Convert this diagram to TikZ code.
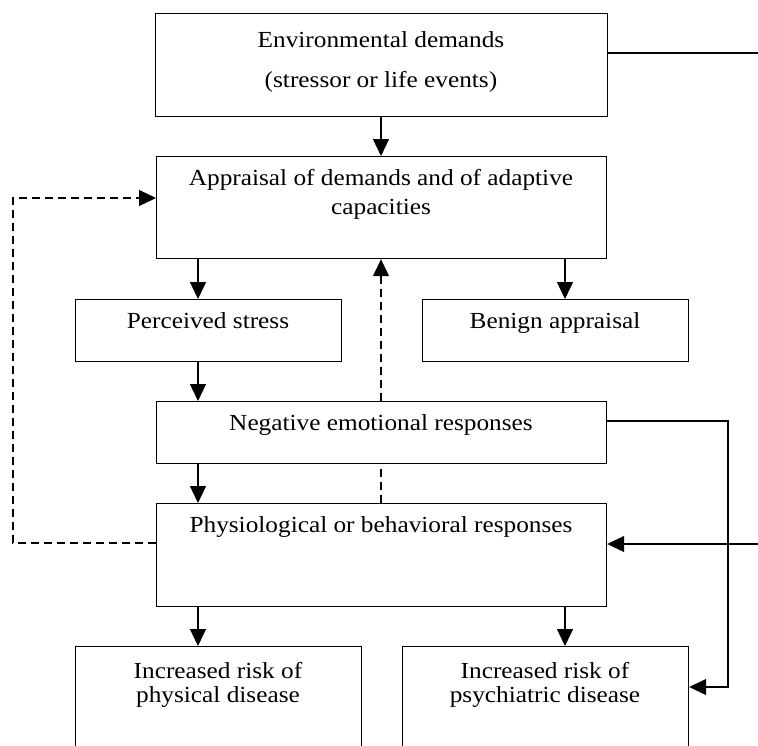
\documentclass[tikz,border=0pt]{standalone}
\usepackage{fontspec}
\setmainfont[FakeStretch=1.1]{Liberation Serif}
\usetikzlibrary{arrows.meta}
\begin{document}
\begin{tikzpicture}[x=1pt,y=-1pt,
  box/.style={draw, line width=1.2pt, inner sep=0pt, anchor=north west},
  lbl/.style={anchor=base, inner sep=0pt, font=\fontsize{23}{27}\selectfont},
  tip/.style={-{Triangle[length=17pt,width=16pt]}},
  arr/.style={line width=1.2pt, tip},
  ln/.style={line width=1.2pt},
  dsh/.style={line width=1.2pt, dash pattern=on 8pt off 5pt}]
\useasboundingbox (0,0) rectangle (758,745);
\begin{scope}
\clip (0,0) rectangle (758,745);
% boxes
\node[box, minimum width=452pt, minimum height=103pt] (env) at (155,13) {};
\node[box, minimum width=450pt, minimum height=102pt] (appr) at (156,156) {};
\node[box, minimum width=266pt, minimum height=62pt] (perc) at (75,299) {};
\node[box, minimum width=266pt, minimum height=62pt] (benign) at (422,299) {};
\node[box, minimum width=450pt, minimum height=62pt] (neg) at (156,401) {};
\node[box, minimum width=450pt, minimum height=103pt] (phys) at (156,503) {};
\node[box, minimum width=286pt, minimum height=150pt] (physrisk) at (75,646) {};
\node[box, minimum width=286pt, minimum height=150pt] (psych) at (402,646) {};
% texts
\node[lbl] (t1) at (381,47) {Environmental demands};
\node[lbl] (t2) at (381,87) {(stressor or life events)};
\node[lbl] (t3) at (381,185) {Appraisal of demands and of adaptive};
\node[lbl] (t4) at (381,214) {capacities};
\node[lbl] (t5) at (208,328) {Perceived stress};
\node[lbl] (t6) at (555,328) {Benign appraisal};
\node[lbl] (t7) at (381,430) {Negative emotional responses};
\node[lbl] (t8) at (381,532) {Physiological or behavioral responses};
\node[lbl] (t9) at (218,678) {Increased risk of};
\node[lbl] (t10) at (218,702) {physical disease};
\node[lbl] (t11) at (545,678) {Increased risk of};
\node[lbl] (t12) at (545,702) {psychiatric disease};
% helper coordinates
\coordinate (xl) at (198,0);
\coordinate (xr) at (565,0);
\coordinate (xm) at (381,0);
\coordinate (envout) at (758,53);
\coordinate (lb) at (13,543);
\coordinate (lt) at (13,198);
\coordinate (rt) at (728,421);
\coordinate (rb) at (728,687);
\coordinate (rin) at (758,544);
% connectors
\draw[arr] (env.south -| xm) -- (appr.north -| xm);
\draw[ln] (env.east |- envout) -- (envout);
\draw[arr] (appr.south -| xl) -- (perc.north -| xl);
\draw[arr] (appr.south -| xr) -- (benign.north -| xr);
\draw[arr] (perc.south -| xl) -- (neg.north -| xl);
\draw[arr] (neg.south -| xl) -- (phys.north -| xl);
\draw[arr] (phys.south -| xl) -- (physrisk.north -| xl);
\draw[arr] (phys.south -| xr) -- (psych.north -| xr);
\draw[dsh] (phys.north -| xm) -- (neg.south -| xm);
\draw[dsh, tip] (neg.north -| xm) -- (appr.south -| xm);
\draw[dsh, tip] (phys.west |- lb) -- (lb) -- (lt) -- (appr.west |- lt);
\draw[arr] (neg.east |- rt) -- (rt) -- (rb) -- (psych.east |- rb);
\draw[arr] (rin) -- (phys.east |- rin);
\end{scope}
\end{tikzpicture}
\end{document}
